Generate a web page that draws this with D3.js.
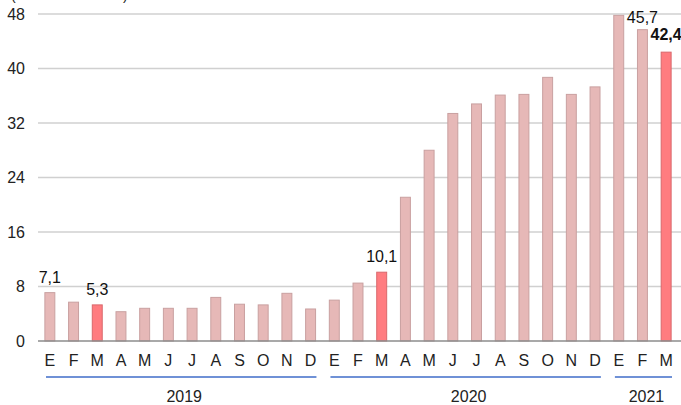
<!DOCTYPE html>
<html>
<head>
<meta charset="utf-8">
<script src="https://cdn.jsdelivr.net/npm/d3@7"></script>
<style>
  body { margin: 0; background: #fff; }
  svg { display: block; font-family: "Liberation Sans", Arial, sans-serif; }
</style>
</head>
<body>
<div id="chart"></div>
<script>
// month letters, one per bar
const months = ["E","F","M","A","M","J","J","A","S","O","N","D",
                "E","F","M","A","M","J","J","A","S","O","N","D",
                "E","F","M"];
const years = ["2019", "2020", "2021"];
const yearOf = [0,0,0,0,0,0,0,0,0,0,0,0, 1,1,1,1,1,1,1,1,1,1,1,1, 2,2,2];
const values = [7.1, 5.7, 5.3, 4.3, 4.8, 4.8, 4.8, 6.4, 5.4, 5.3, 7.0, 4.7,
                6.0, 8.5, 10.1, 21.1, 28.0, 33.4, 34.8, 36.1, 36.2, 38.7, 36.2, 37.3,
                47.8, 45.7, 42.4];
const highlighted = [2, 14, 26];
const labels = { 0: "7,1", 2: "5,3", 14: "10,1", 25: "45,7", 26: "42,4" };
const yTicks = [0, 8, 16, 24, 32, 40, 48];

const W = 681, H = 405;
const svg = d3.select("#chart").append("svg").attr("width", W).attr("height", H);

const idx = d3.range(values.length);
const x = d3.scaleBand().domain(idx).range([38, 678]).paddingInner(0.58).paddingOuter(0.29);
const y = d3.scaleLinear().domain([0, 48]).range([341, 14]);

// unit label, cut off at the top as in the source
svg.append("text").attr("x", 11).attr("y", 0).attr("font-size", 14).attr("fill", "#222")
  .text("(Miles de millones)");

// gridlines
svg.append("g").selectAll("line").data(yTicks.filter(d => d > 0)).join("line")
  .attr("x1", 38).attr("x2", 681)
  .attr("y1", d => y(d)).attr("y2", d => y(d))
  .attr("stroke", "#d0d0d0").attr("stroke-width", 1.5);

// y tick labels
svg.append("g").selectAll("text").data(yTicks).join("text")
  .attr("x", 25).attr("y", d => y(d)).attr("dy", "0.35em")
  .attr("text-anchor", "end").attr("font-size", 16).attr("fill", "#222")
  .text(d => d);

// bars
svg.append("g").selectAll("rect").data(idx).join("rect")
  .attr("x", i => x(i)).attr("width", x.bandwidth())
  .attr("y", i => y(values[i])).attr("height", i => y(0) - y(values[i]))
  .attr("fill", i => highlighted.includes(i) ? "#ff7c80" : "#e6b8b7")
  .attr("stroke", i => highlighted.includes(i) ? "#d9686c" : "#c9a0a0")
  .attr("stroke-width", 1);

// baseline
svg.append("line").attr("x1", 38).attr("x2", 681).attr("y1", y(0)).attr("y2", y(0))
  .attr("stroke", "#8c8c8c").attr("stroke-width", 1.5);

// value labels
svg.append("g").selectAll("text").data(Object.keys(labels).map(Number)).join("text")
  .attr("x", i => x(i) + x.bandwidth() / 2)
  .attr("y", i => y(values[i]) - (i === 26 ? 12 : i === 25 ? 7 : 10))
  .attr("text-anchor", "middle").attr("font-size", 16).attr("fill", "#111")
  .attr("font-weight", i => i === 26 ? "bold" : "normal")
  .text(i => labels[i]);

// month letters
svg.append("g").selectAll("text").data(idx).join("text")
  .attr("x", i => x(i) + x.bandwidth() / 2).attr("y", 366)
  .attr("text-anchor", "middle").attr("font-size", 16).attr("fill", "#222")
  .text(i => months[i]);

// year groups
const step = x.step();
const groups = years.map((yr, k) => {
  const members = idx.filter(i => yearOf[i] === k);
  const start = x(members[0]) - (step - x.bandwidth()) / 2;
  const end = x(members[members.length - 1]) + x.bandwidth() + (step - x.bandwidth()) / 2;
  return { yr, start, end };
});
svg.append("g").selectAll("line").data(groups).join("line")
  .attr("x1", d => d.start + 8).attr("x2", d => d.end - 6)
  .attr("y1", 377).attr("y2", 377)
  .attr("stroke", "#6f91d6").attr("stroke-width", 2);
svg.append("g").selectAll("text").data(groups).join("text")
  .attr("x", d => (d.start + d.end) / 2 + 4).attr("y", 402)
  .attr("text-anchor", "middle").attr("font-size", 16).attr("fill", "#222")
  .text(d => d.yr);
</script>
</body>
</html>
